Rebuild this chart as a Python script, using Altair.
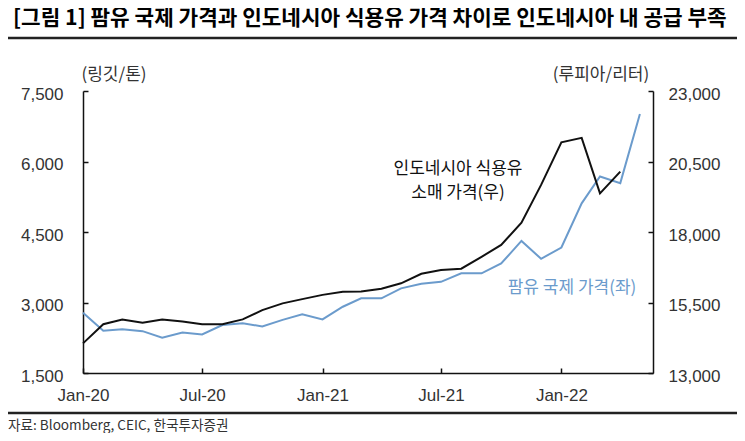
import altair as alt
import pandas as pd

# ---- data ----
months = [
    "2020-01-01", "2020-02-01", "2020-03-01", "2020-04-01", "2020-05-01", "2020-06-01",
    "2020-07-01", "2020-08-01", "2020-09-01", "2020-10-01", "2020-11-01", "2020-12-01",
    "2021-01-01", "2021-02-01", "2021-03-01", "2021-04-01", "2021-05-01", "2021-06-01",
    "2021-07-01", "2021-08-01", "2021-09-01", "2021-10-01", "2021-11-01", "2021-12-01",
    "2022-01-01", "2022-02-01", "2022-03-01", "2022-04-01", "2022-05-01",
]
# 팜유 국제 가격 (링깃/톤, left axis)
palm_oil = [
    2780, 2400, 2430, 2390, 2250, 2360, 2320, 2520, 2560, 2490, 2630, 2750,
    2640, 2910, 3090, 3090, 3300, 3400, 3440, 3620, 3620, 3830, 4310, 3930,
    4170, 5110, 5680, 5540, 7010,
]
# 인도네시아 식용유 소매 가격 (루피아/리터, right axis)
cooking_oil = [
    14050, 14730, 14900, 14780, 14900, 14830, 14730, 14730, 14900, 15230, 15470, 15620,
    15770, 15880, 15890, 15990, 16180, 16520, 16650, 16700, 17120, 17540, 18330, 19670,
    21180, 21340, 19370, 20140,
]
left_ticks = [1500, 3000, 4500, 6000, 7500]
right_ticks = [13000, 15500, 18000, 20500, 23000]
x_ticks = [(2020, 1), (2020, 7), (2021, 1), (2021, 7), (2022, 1)]
x_domain = [(2020, 1, 1), (2022, 5, 21)]

title_text = "[그림 1] 팜유 국제 가격과 인도네시아 식용유 가격 차이로 인도네시아 내 공급 부족"
left_unit = "(링깃/톤)"
right_unit = "(루피아/리터)"
black_label_1 = "인도네시아 식용유"
black_label_2 = "소매 가격(우)"
blue_label = "팜유 국제 가격(좌)"
source_text = "자료: Bloomberg, CEIC, 한국투자증권"

df_blue = pd.DataFrame({"date": months, "value": palm_oil})
df_black = pd.DataFrame({"date": months[:len(cooking_oil)], "value": cooking_oil})

KFONT = "Noto Sans CJK KR"
NFONT = "Liberation Sans, Noto Sans CJK KR"
BLUE = "#6b9bcc"
BLACK = "#111111"
LABEL = "#333333"

x_enc = alt.X(
    "date:T",
    scale=alt.Scale(
        type="utc",
        domain=[alt.DateTime(year=y, month=m, date=d, utc=True) for (y, m, d) in x_domain],
    ),
    axis=alt.Axis(
        values=[alt.DateTime(year=y, month=m, date=1, utc=True) for (y, m) in x_ticks],
        format="%b-%y",
        title=None,
        grid=False,
        labelFlush=False,
        labelOverlap=False,
        labelFont=NFONT,
        labelFontSize=17,
        labelColor=LABEL,
        labelPadding=19,
        tickSize=alt.ExprRef(expr="-5"),
        tickColor=BLACK,
        tickWidth=1.5,
        domainColor=BLACK,
        domainWidth=1.5,
    ),
)

blue_line = alt.Chart(df_blue).mark_line(color=BLUE, strokeWidth=2).encode(
    x=x_enc,
    y=alt.Y(
        "value:Q",
        scale=alt.Scale(domain=[left_ticks[0], left_ticks[-1]], nice=False, zero=False),
        axis=alt.Axis(
            orient="left",
            values=left_ticks,
            format=",.0f",
            title=None,
            grid=False,
            labelFont=NFONT,
            labelFontSize=17,
            labelColor=LABEL,
            labelPadding=25,
            labelOffset=3,
            tickSize=alt.ExprRef(expr="-5"),
            tickColor=BLACK,
            tickWidth=1.5,
            domainColor=BLACK,
            domainWidth=1.5,
        ),
    ),
)

black_line = alt.Chart(df_black).mark_line(color=BLACK, strokeWidth=2).encode(
    x=x_enc,
    y=alt.Y(
        "value:Q",
        scale=alt.Scale(domain=[right_ticks[0], right_ticks[-1]], nice=False, zero=False),
        axis=alt.Axis(
            orient="right",
            values=right_ticks,
            format=",.0f",
            title=None,
            grid=False,
            labelFont=NFONT,
            labelFontSize=17,
            labelColor=LABEL,
            labelPadding=20,
            labelOffset=3,
            tickSize=alt.ExprRef(expr="-5"),
            tickColor=BLACK,
            tickWidth=1.5,
            domainColor=BLACK,
            domainWidth=1.5,
        ),
    ),
)


def text_layer(txt, x, y, size, color, align="center", weight="normal"):
    return alt.Chart(pd.DataFrame({"t": [txt]})).mark_text(
        font=KFONT, fontSize=size, color=color, align=align, baseline="middle",
        fontWeight=weight,
    ).encode(x=alt.value(x), y=alt.value(y), text="t:N")


def hrule(y):
    return alt.Chart(pd.DataFrame({"k": [0]})).mark_rule(
        color="#222222", strokeWidth=2.5
    ).encode(x=alt.value(-75), x2=alt.value(654), y=alt.value(y))


layers = [
    blue_line,
    black_line,
    text_layer(title_text, -70, -72, 21.3, "#000000", align="left", weight="bold"),
    hrule(-53),
    text_layer(left_unit, 31, -16, 17, LABEL),
    text_layer(right_unit, 518, -16, 17, LABEL),
    text_layer(black_label_1, 375, 78, 17, BLACK),
    text_layer(black_label_2, 375, 102, 17, BLACK),
    text_layer(blue_label, 489, 197, 17, BLUE),
    hrule(322),
    text_layer(source_text, -75, 335, 13.6, LABEL, align="left"),
]

chart = (
    alt.layer(*layers)
    .resolve_scale(y="independent")
    .properties(
        width=570,
        height=282,
        autosize=alt.AutoSizeParams(type="none"),
        padding={"left": 75, "top": 83, "right": 84, "bottom": 60},
    )
    .configure_view(strokeWidth=0)
)

chart.save("out.html", embed_options={"renderer": "svg", "actions": False})
